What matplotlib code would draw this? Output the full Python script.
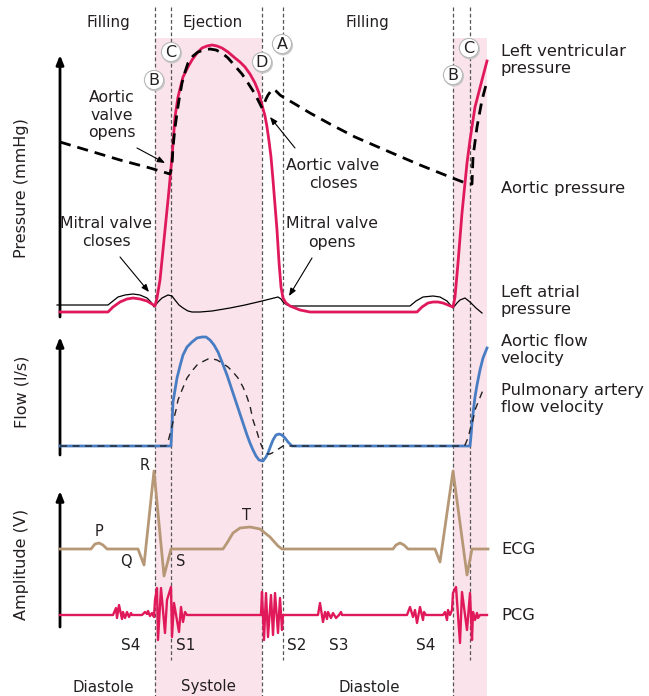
import matplotlib
matplotlib.use("Agg")
import matplotlib.pyplot as plt
from matplotlib.patches import Circle, Rectangle

plt.rcParams['font.family'] = ['DejaVu Sans']

# ---------------- data (time along x, signal level along y; y grows downward) ----------------
# cardiac events: B = mitral closes, C = aortic opens, D = aortic closes, A = mitral opens
event_B = [155, 453]
event_C = [171, 470]
event_D = [262]
event_A = [283]
systole_spans = [(155, 262), (453, 487)]

# Left ventricular pressure
lv_t = [60, 108, 113, 120, 127, 133, 140, 147, 152, 155, 157, 160, 165, 169, 172, 175, 178,
        183, 188, 192, 197, 202, 207, 212, 217, 222, 228, 235, 240, 245, 250, 255, 259, 262,
        265, 267, 269, 271, 273, 275, 277, 279, 281, 283, 286, 290, 295, 300, 310, 417, 422,
        428, 433, 438, 443, 448, 453, 455, 458, 462, 467, 470, 475, 482, 487]
lv_p = [312, 312, 307, 302, 299, 298, 299, 301, 304, 306, 298, 280, 230, 190, 157, 117, 97,
        77, 67, 60, 53, 48, 46, 45, 46, 48, 52, 58, 62, 67, 74, 83, 93, 105,
        116, 127, 141, 157, 180, 205, 230, 262, 287, 298, 303, 306, 308, 310, 312, 312, 307,
        303, 302, 302, 303, 305, 307, 297, 263, 213, 163, 140, 107, 80, 61]

# Aortic pressure
ao_t = [60, 90, 120, 150, 170, 172, 173, 175, 177, 179, 182, 185, 188, 193, 198, 204, 210,
        216, 222, 228, 235, 242, 248, 255, 262, 264, 266, 268, 271, 273, 276, 280, 283, 295,
        310, 330, 355, 385, 420, 450, 468, 472, 473, 477, 482, 486]
ao_p = [142, 151, 160, 168, 174, 166, 147, 128, 113, 100, 83, 72, 63, 56, 52, 50, 49,
        50, 53, 58, 66, 74, 83, 94, 108, 104, 99, 95, 91, 89, 91, 95, 97, 104,
        113, 124, 137, 150, 165, 177, 184, 184, 157, 127, 100, 85]

# Left atrial pressure
la_t = [57, 108, 113, 118, 125, 133, 140, 147, 151, 154, 158, 162, 168, 172, 175, 179, 183,
        188, 192, 200, 212, 230, 245, 262, 278, 281, 283, 287, 292, 300, 410, 416, 423, 433,
        440, 447, 453, 457, 460, 465, 470, 476, 482]
la_p = [305, 305, 301, 297, 295, 294, 295, 298, 302, 307, 302, 298, 295, 296, 300, 305, 308,
        311, 312, 312, 311, 308, 305, 301, 297, 299, 302, 305, 306, 306, 306, 301, 297, 296,
        297, 301, 308, 303, 300, 298, 302, 308, 313]

# Aortic flow velocity
af_t = [60, 171, 172, 173, 175, 177, 180, 183, 187, 192, 197, 202, 206, 210, 214, 218, 222,
        227, 232, 237, 242, 247, 250, 253, 256, 259, 263, 266, 268, 271, 273, 276, 279, 282,
        285, 288, 292, 470, 471, 472, 474, 475, 477, 480, 483, 487]
af_v = [446, 446, 425, 402, 390, 378, 366, 355, 347, 342, 338, 337, 337, 340, 345, 352, 362,
        375, 390, 405, 420, 435, 443, 450, 456, 460, 461, 457, 453, 445, 440, 435, 434, 435,
        438, 442, 446, 446, 436, 423, 405, 397, 385, 370, 358, 348]

# Pulmonary artery flow velocity
pf_t = [60, 166, 168, 170, 173, 176, 178, 182, 187, 192, 197, 202, 208, 213, 217, 222, 228,
        233, 238, 243, 247, 250, 253, 257, 260, 263, 265, 268, 270, 274, 277, 280, 283, 290,
        462, 465, 468, 470, 473, 475, 479, 483]
pf_v = [446, 446, 442, 434, 422, 410, 400, 390, 378, 371, 365, 362, 359, 359, 360, 363, 367,
        372, 378, 387, 397, 406, 420, 432, 442, 449, 452, 454, 454, 452, 450, 448, 446, 446,
        446, 445, 438, 430, 420, 410, 400, 390]

# ECG
ecg_t = [60, 91, 95, 99, 103, 107, 138, 144, 154, 164, 171, 223, 227, 233, 240, 250, 260,
         270, 278, 282, 393, 396, 400, 404, 408, 435, 440, 453, 467, 472, 488]
ecg_v = [549, 549, 544, 543, 545, 549, 549, 565, 471, 576, 549, 549, 543, 533, 528, 527, 529,
         537, 546, 549, 549, 545, 543, 545, 549, 549, 562, 471, 575, 549, 549]

# PCG
pcg_t = [60, 113, 116, 117, 119, 122, 123, 125, 127, 129, 131, 132, 142, 145, 147, 148, 150,
         152, 154, 155, 157, 158, 161, 165, 167, 171, 172, 174, 179, 181, 183, 185, 187,
         261, 262, 264, 266, 268, 271, 273, 275, 278, 280, 282, 283,
         318, 320, 323, 325, 327, 328, 331, 333, 336, 339, 341, 342,
         407, 410, 413, 415, 417, 420, 423, 424, 426, 443, 445, 447, 448, 450, 452, 453,
         456, 460, 462, 467, 470, 472, 473, 475, 477, 478, 480, 487]
pcg_v = [615, 615, 608, 618, 605, 619, 612, 618, 612, 617, 613, 615, 615, 612, 614, 611, 616,
         613, 617, 600, 588, 640, 588, 633, 600, 587, 637, 603, 632, 607, 622, 612, 615,
         615, 592, 640, 593, 637, 595, 635, 593, 633, 598, 630, 615,
         615, 603, 622, 612, 619, 612, 618, 613, 618, 615, 612, 615,
         615, 607, 617, 610, 623, 607, 620, 612, 615, 615, 612, 620, 610, 615, 610, 593,
         587, 643, 592, 630, 593, 640, 612, 620, 613, 618, 615, 615]

# ---------------- styling ----------------
RED = '#e0195b'
BLUE = '#487dc4'
TAN = '#b69877'
PINK = '#fae3ea'
TXT = '#231f20'
GRID = '#555555'

fig = plt.figure(figsize=(6.49, 6.96), dpi=100)
ax = fig.add_axes([0, 0, 1, 1])
ax.set_xlim(0, 649)
ax.set_ylim(696, 0)
ax.axis('off')

# systole shading
for a, b in systole_spans:
    ax.add_patch(Rectangle((a, 38), b - a, 696 - 38, facecolor=PINK, edgecolor='none', zorder=0))

# event lines
for x in event_B + event_D:
    ax.plot([x, x], [7, 696], color=GRID, lw=0.9, ls=(0, (3, 2)), zorder=1)
for x in event_C + event_A:
    ax.plot([x, x], [7, 660], color=GRID, lw=0.9, ls=(0, (3, 2)), zorder=1)

# axis arrows
arrow_kw = dict(arrowstyle='-|>,head_width=0.22,head_length=0.55', lw=2, color='black',
                shrinkA=0, shrinkB=0)
for y0, y1 in [(317, 55), (455, 337), (627, 491)]:
    ax.annotate('', xy=(60, y1), xytext=(60, y0), arrowprops=arrow_kw, zorder=3)

# pressure curves
ax.plot(la_t, la_p, color='black', lw=0.9, zorder=3)
ax.plot(lv_t, lv_p, color=RED, lw=2, zorder=4, solid_joinstyle='round')
ax.plot(ao_t, ao_p, color='black', lw=2, ls=(0, (4, 2.5)), zorder=5)

# flow curves
ax.plot(af_t, af_v, color=BLUE, lw=2, zorder=4, solid_joinstyle='round')
ax.plot(pf_t, pf_v, color='#222222', lw=1, ls=(0, (5, 4)), zorder=5)

# ECG / PCG
ax.plot(ecg_t, ecg_v, color=TAN, lw=2, zorder=4)
ax.plot(pcg_t, pcg_v, color=RED, lw=1.7, zorder=4)

# phase labels
for s, x, y in [('Filling', 108, 22), ('Ejection', 213, 22), ('Filling', 367, 22),
                ('Diastole', 103, 687), ('Systole', 208, 687), ('Diastole', 369, 687)]:
    ax.text(x, y, s, ha='center', va='center', fontsize=10.8, color=TXT)

# circled event markers
for s, x, y in [('B', 154, 80), ('C', 171, 52), ('D', 262, 62), ('A', 282, 44),
                ('B', 453, 75), ('C', 469, 48)]:
    ax.add_patch(Circle((x + 1.0, y + 1.4), 10.0, facecolor='#c8c8c8', edgecolor='none', zorder=6))
    ax.add_patch(Circle((x, y), 9.6, facecolor='white', edgecolor='#b8b8b8', lw=0.8, zorder=7))
    ax.text(x, y + 0.5, s, ha='center', va='center', fontsize=11.5, color=TXT, zorder=8)

# valve annotations
ann_kw = dict(arrowstyle='-|>,head_width=0.18,head_length=0.45', lw=0.8, color='black',
              shrinkA=0, shrinkB=0)
ax.text(112, 115, 'Aortic\nvalve\nopens', ha='center', va='center', fontsize=11.3,
        color=TXT, linespacing=1.25)
ax.annotate('', xy=(165, 163), xytext=(137, 148), arrowprops=ann_kw, zorder=6)
ax.text(106, 233, 'Mitral valve\ncloses', ha='center', va='center', fontsize=11.3,
        color=TXT, linespacing=1.25)
ax.annotate('', xy=(149, 292), xytext=(120, 257), arrowprops=ann_kw, zorder=6)
ax.text(333, 174, 'Aortic valve\ncloses', ha='center', va='center', fontsize=11.3,
        color=TXT, linespacing=1.25)
ax.annotate('', xy=(270, 117), xytext=(295, 148), arrowprops=ann_kw, zorder=6)
ax.text(332, 233, 'Mitral valve\nopens', ha='center', va='center', fontsize=11.3,
        color=TXT, linespacing=1.25)
ax.annotate('', xy=(289, 296), xytext=(312, 258), arrowprops=ann_kw, zorder=6)

# ECG wave letters and heart sound labels
for s, x, y in [('P', 99, 532), ('Q', 126, 562), ('R', 145, 466), ('S', 181, 562),
                ('T', 247, 515)]:
    ax.text(x, y, s, ha='center', va='center', fontsize=10.5, color=TXT)
for s, x, y in [('S4', 131, 645), ('S1', 186, 645), ('S2', 297, 645), ('S3', 339, 645),
                ('S4', 426, 645)]:
    ax.text(x, y, s, ha='center', va='center', fontsize=11, color=TXT)

# trace names on the right
for s, y in [('Left ventricular\npressure', 60), ('Aortic pressure', 188),
             ('Left atrial\npressure', 301), ('Aortic flow\nvelocity', 350),
             ('Pulmonary artery\nflow velocity', 399), ('ECG', 550), ('PCG', 615)]:
    ax.text(501, y, s, ha='left', va='center', fontsize=11.8, color=TXT, linespacing=1.2)

# axis titles
for s, y in [('Pressure (mmHg)', 188), ('Flow (l/s)', 392), ('Amplitude (V)', 564)]:
    ax.text(22, y, s, ha='center', va='center', rotation=90, fontsize=11.5, color=TXT)

fig.savefig('out.png', dpi=100)
